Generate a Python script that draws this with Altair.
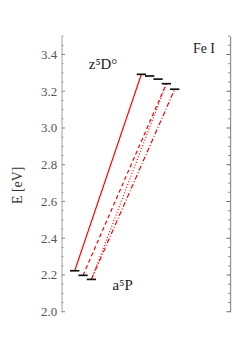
import altair as alt
import pandas as pd

# Energy levels (eV)
lower_J = [1, 2, 3]
lower_E = [2.223, 2.198, 2.176]
lower_slot = [0, 1, 2]
upper_J = [0, 1, 2, 3, 4]
upper_E = [3.292, 3.283, 3.266, 3.241, 3.211]
upper_slot = [8, 9, 10, 11, 12]

# Transitions: (lower J, upper J, line style)
trans_lo = [1, 2, 3, 3]
trans_hi = [0, 3, 3, 4]
trans_style = ["solid", "dashed", "dotted", "dashdot"]

major_ticks = [2.0, 2.2, 2.4, 2.6, 2.8, 3.0, 3.2, 3.4]
minor_ticks = [2.05, 2.1, 2.15, 2.25, 2.3, 2.35, 2.45, 2.5, 2.55, 2.65, 2.7, 2.75,
               2.85, 2.9, 2.95, 3.05, 3.1, 3.15, 3.25, 3.3, 3.35, 3.45, 3.5]

label_text = ["z\u2075D\u00b0", "a\u2075P", "Fe I"]
label_x = [1.69, 4.55, 14.2]
label_E = [3.322, 2.120, 3.41]
label_size = [15, 15, 14]

W, H = 170, 278
FONT = "Liberation Serif"

levels = pd.DataFrame({
    "slot": lower_slot + upper_slot,
    "E": lower_E + upper_E,
})
lo_map = dict(zip(lower_J, zip(lower_slot, lower_E)))
hi_map = dict(zip(upper_J, zip(upper_slot, upper_E)))
trans = pd.DataFrame({
    "x1": [lo_map[j][0] for j in trans_lo],
    "y1": [lo_map[j][1] for j in trans_lo],
    "x2": [hi_map[j][0] for j in trans_hi],
    "y2": [hi_map[j][1] for j in trans_hi],
    "style": trans_style,
})
ticks = pd.DataFrame({
    "v": major_ticks + minor_ticks,
    "len": [3.5] * len(major_ticks) + [2] * len(minor_ticks),
})
labels = pd.DataFrame({"t": label_text, "x": label_x, "E": label_E, "s": label_size})

xs = alt.Scale(domain=[-1.58, 18.65], nice=False, zero=False)
ys = alt.Scale(domain=[2.0, 3.5], nice=False, zero=False)

left_axis = alt.Axis(values=major_ticks, format=".1f", ticks=False, domain=True,
                     domainColor="#b0b0b0", domainWidth=1.2, grid=False,
                     labelOverlap=False, labelBound=False, labelFlush=False,
                     labelFont=FONT, labelFontSize=13, labelColor="#555555",
                     labelPadding=5, title="E [eV]", titleFont=FONT,
                     titleFontSize=14, titleFontWeight="normal", titleColor="#333333",
                     titleAngle=-90, titleX=-44, titleY=150, titleAlign="center",
                     titleBaseline="middle")
right_axis = alt.Axis(orient="right", labels=False, ticks=False, domain=True,
                      domainColor="#909090", domainWidth=1.2, grid=False, title=None)

trans_layer = alt.Chart(trans).mark_rule(color="#ff0000", strokeWidth=1.2).encode(
    x=alt.X("x1:Q", scale=xs, axis=None),
    y=alt.Y("y1:Q", scale=ys, axis=left_axis, title="E [eV]"),
    x2="x2:Q",
    y2="y2:Q",
    strokeDash=alt.StrokeDash("style:N", scale=alt.Scale(
        domain=["solid", "dashed", "dotted", "dashdot"],
        range=[[1, 0], [4, 3], [1, 2], [5, 2, 1, 2]]), legend=None),
)

level_layer = alt.Chart(levels).transform_calculate(
    xl="datum.slot - 0.56", xr="datum.slot + 0.56"
).mark_rule(color="#111111", strokeWidth=1.7).encode(
    x=alt.X("xl:Q", scale=xs, axis=None),
    x2="xr:Q",
    y=alt.Y("E:Q", scale=ys, axis=left_axis, title="E [eV]"),
)

ltick_major = alt.Chart(ticks).transform_filter("datum.len > 3").mark_rule(
    color="#888888", strokeWidth=1).encode(
    y=alt.Y("v:Q", scale=ys, axis=left_axis, title="E [eV]"),
    x=alt.value(0), x2=alt.value(3.5))
ltick_minor = alt.Chart(ticks).transform_filter("datum.len < 3").mark_rule(
    color="#999999", strokeWidth=1).encode(
    y=alt.Y("v:Q", scale=ys, axis=left_axis, title="E [eV]"),
    x=alt.value(0), x2=alt.value(2))
text_layer = alt.Chart(labels).mark_text(
    font=FONT, align="left", baseline="alphabetic", color="#222222"
).encode(
    x=alt.X("x:Q", scale=xs, axis=None),
    y=alt.Y("E:Q", scale=ys, axis=left_axis, title="E [eV]"),
    text="t:N",
    size=alt.Size("s:Q", scale=None, legend=None),
)

rtick_major = alt.Chart(ticks).transform_filter("datum.len > 3").mark_rule(
    color="#666666", strokeWidth=1).encode(
    y=alt.Y("v:Q", scale=ys, axis=right_axis), x=alt.value(W), x2=alt.value(W - 3.5))
rtick_minor = alt.Chart(ticks).transform_filter("datum.len < 3").mark_rule(
    color="#888888", strokeWidth=1).encode(
    y=alt.Y("v:Q", scale=ys, axis=right_axis), x=alt.value(W), x2=alt.value(W - 2))

left = alt.layer(trans_layer, level_layer, ltick_major, ltick_minor, text_layer)
right = alt.layer(rtick_major, rtick_minor)
chart = alt.layer(left, right).resolve_axis(
    y="independent"
).properties(
    width=W, height=H,
    autosize=alt.AutoSizeParams(type="none"),
    padding={"left": 54, "top": 27, "right": 10, "bottom": 10},
    background="white",
).configure_view(stroke=None).configure_axis(labelFont=FONT, titleFont=FONT)

chart.save("out.html", embed_options={"renderer": "svg", "actions": False})
